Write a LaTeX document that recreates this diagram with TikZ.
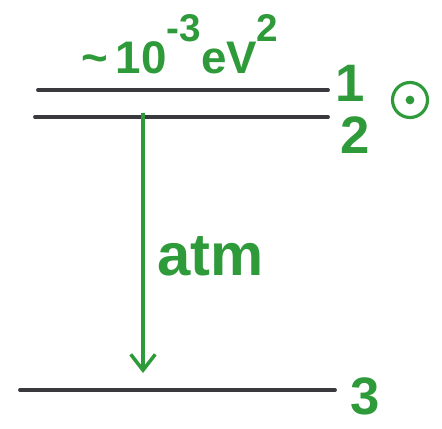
\documentclass[tikz,border=0pt]{standalone}
\usepackage{fontspec}
\setmainfont{Liberation Sans}
\usetikzlibrary{arrows.meta, positioning}
\definecolor{Pen}     {HTML}{2E9A3A}
\definecolor{Graphite}{HTML}{3A3A3E}
\tikzset{
  pen arrow/.style={-{Straight Barb[length=9pt,width=14pt]}, line width=2pt},
}
\newcommand{\upper}[1]{\raisebox{0.7em}{\fontsize{22}{22}\selectfont #1}}
\begin{document}
\begin{tikzpicture}[
    level/.style={draw=Graphite, line width=2.2pt, line cap=round},
    tag/.style={text=Pen, font=\bfseries\fontsize{30}{32}\selectfont, inner sep=1pt},
    note/.style={text=Pen, font=\bfseries\fontsize{26}{28}\selectfont, inner sep=1pt}]
  \useasboundingbox (0,0) rectangle (8.84,8.56);
  % Levels
  \coordinate (l1w) at (0.76,6.76);  \coordinate (l1e) at (6.56,6.76);
  \coordinate (l2w) at (0.70,6.22);  \coordinate (l2e) at (6.56,6.22);
  \coordinate (l3w) at (0.40,0.76);  \coordinate (l3e) at (6.70,0.76);
  \draw[level] (l1w) -- (l1e);
  \draw[level] (l2w) -- (l2e);
  \draw[level] (l3w) -- (l3e);
  % Labels
  \node[tag] (n1) at (7.0,6.9)  {1};
  \node[tag] (n2) at (7.1,5.86) {2};
  \node[tag] (n3) at (7.3,0.64) {3};
  \node[draw=Pen, line width=1.8pt, circle, minimum size=0.7cm, inner sep=0pt]
    (sun) at (8.2,6.56) {};
  \fill[Pen] (sun.center) circle (2.5pt);
  \node[note] (dm) at (3.6,7.68) {\char"7E\,10\upper{-3}eV\upper{2}};
  % Arrow
  \coordinate (top) at (2.86,6.30);
  \coordinate (bot) at (2.86,1.10);
  \draw[pen arrow, Pen] (top) -- (bot);
  \node[tag, anchor=west, font=\bfseries\fontsize{34}{36}\selectfont]
    (atm) at (3.10,3.44) {atm};
\end{tikzpicture}
\end{document}
